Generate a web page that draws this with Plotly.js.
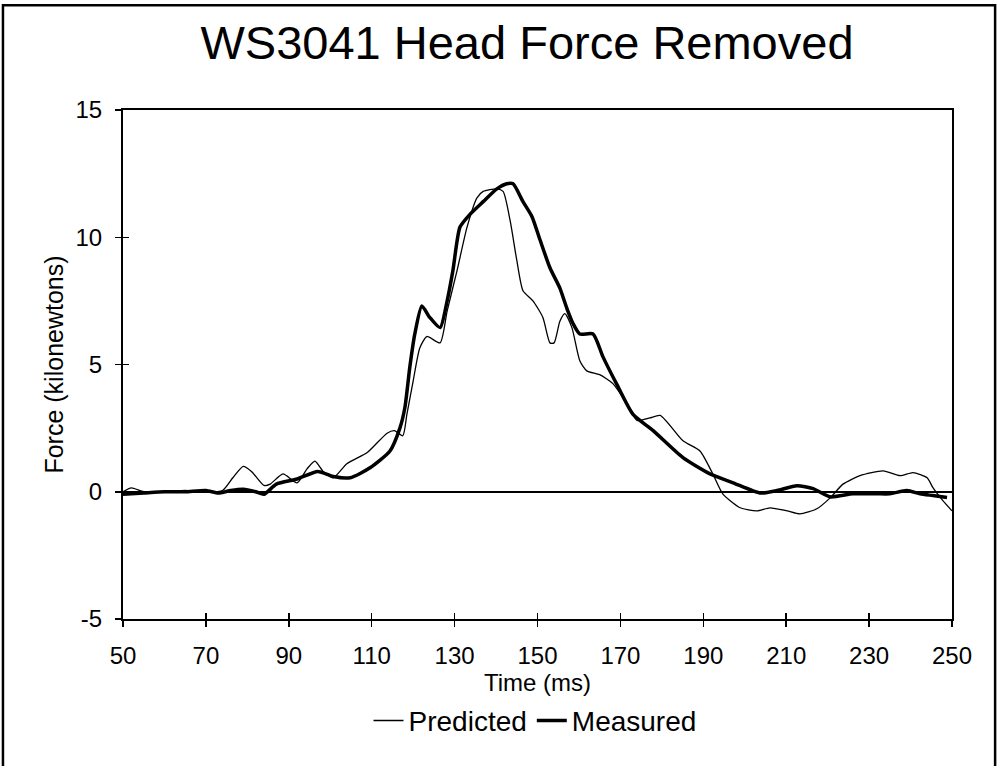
<!DOCTYPE html>
<html>
<head>
<meta charset="utf-8">
<script src="https://cdn.plot.ly/plotly-3.0.1.min.js"></script>
<style>html,body{margin:0;padding:0;background:#fff;}#chart{width:1000px;height:766px;}</style>
</head>
<body>
<div id="chart"></div>
<script>
const predictedTime = [50,52,55,60,65,70,74,76.5,79,81,84,85.5,88.6,92,94.4,96.3,98.3,100.7,104,109,113.7,115.5,117.5,118.5,120,121.6,123.3,126.5,128.2,130.6,133,135.4,136.9,140.2,141.7,143.4,145,146.5,148.9,151.3,153,154,155.4,156.6,158.3,160.2,161.9,165,168.2,171.6,174,177.1,179.6,185.1,189.2,192.3,194.7,198.9,202.9,206.1,210.2,213.3,217.4,220.6,223.7,227.8,233.4,237.5,240.6,244,245.4,247.8,250];
const predictedForce = [0,0.15,0,0,0.05,0,0.05,0.55,1.0,0.8,0.25,0.3,0.7,0.35,0.9,1.2,0.8,0.55,1.1,1.55,2.3,2.4,2.2,3.05,4.35,5.65,6.1,5.85,7.1,8.7,10.4,11.55,11.8,11.9,11.8,10.65,9.1,7.9,7.5,6.85,5.85,5.85,6.7,7.0,6.45,5.15,4.75,4.6,4.25,3.45,2.8,2.9,3.0,2.0,1.6,0.7,-0.08,-0.63,-0.75,-0.63,-0.75,-0.87,-0.67,-0.24,0.3,0.63,0.82,0.63,0.75,0.55,0.16,-0.35,-0.75];
const measuredTime = [50,55,60,65,70,73,76,79,82,84,87,92,97,100.7,104.8,109.6,114.4,116.8,118,119.2,120.4,122.1,124,126.5,128.2,129.6,131.3,133.7,136.9,140.2,142.6,144.1,146.5,148.7,150.6,153,155.4,157.1,158.6,160.2,163.4,165.8,169.2,173,177.9,185.1,191.6,197.2,203.7,207.8,212.6,216.5,220.6,226.1,231.9,235,239.1,242.3,245.4,248.8];
const measuredForce = [-0.1,-0.05,0,0,0.05,-0.05,0.05,0.1,0,-0.1,0.3,0.5,0.8,0.6,0.55,0.94,1.6,2.5,3.3,4.9,6.2,7.3,6.85,6.45,7.5,8.7,10.4,10.9,11.4,11.9,12.1,12.1,11.4,10.8,9.9,8.8,8.0,7.2,6.6,6.2,6.2,5.3,4.2,3.05,2.4,1.34,0.7,0.35,-0.05,0.05,0.24,0.12,-0.2,-0.08,-0.08,-0.08,0.05,-0.08,-0.15,-0.23];
const xTicks = [50,70,90,110,130,150,170,190,210,230,250];
const yTicks = [-5,0,5,10,15];

const FONT = "Liberation Sans, Arial, sans-serif";
const traces = [
  {x: predictedTime, y: predictedForce, name: 'Predicted', mode: 'lines',
   line: {color: '#000', width: 1.3, shape: 'spline', smoothing: 0.6}},
  {x: measuredTime, y: measuredForce, name: 'Measured', mode: 'lines',
   line: {color: '#000', width: 3.5, shape: 'spline', smoothing: 0.6}},
  // empty helper traces so the overlay axes (inner half of the crossing ticks) are drawn
  {x: [], y: [], xaxis: 'x2', yaxis: 'y', showlegend: false, hoverinfo: 'skip', mode: 'lines'},
  {x: [], y: [], xaxis: 'x', yaxis: 'y2', showlegend: false, hoverinfo: 'skip', mode: 'lines'}
];
const layout = {
  width: 1000, height: 766,
  margin: {l: 123, r: 48, t: 110, b: 147},
  paper_bgcolor: '#fff', plot_bgcolor: '#fff',
  font: {family: FONT, color: '#000'},
  showlegend: true,
  title: {text: 'WS3041 Head Force Removed', font: {family: FONT, size: 47, color: '#000'},
          x: 0.527, xanchor: 'center', y: 0.945, yanchor: 'middle', xref: 'container', yref: 'container'},
  xaxis: {range: [50, 250], tickvals: xTicks, ticktext: xTicks.map(String),
          showgrid: false, zeroline: false, showline: true, linecolor: '#000', linewidth: 2, mirror: true,
          ticks: 'outside', ticklen: 6, tickwidth: 1.5, tickcolor: '#000', ticklabelstandoff: 8,
          tickfont: {family: FONT, size: 24},
          title: {text: 'Time (ms)', font: {family: FONT, size: 24}, standoff: 1}},
  yaxis: {range: [-5, 15], tickvals: yTicks, ticktext: yTicks.map(String),
          showgrid: false, zeroline: true, zerolinecolor: '#000', zerolinewidth: 1.5,
          showline: true, linecolor: '#000', linewidth: 2, mirror: true,
          ticks: 'outside', ticklen: 6, tickwidth: 1.5, tickcolor: '#000', ticklabelstandoff: 8,
          tickfont: {family: FONT, size: 24},
          title: {text: 'Force (kilonewtons)', font: {family: FONT, size: 25}, standoff: 5}},
  xaxis2: {overlaying: 'x', anchor: 'y', side: 'bottom', range: [50, 250], tickvals: xTicks,
           showticklabels: false, showgrid: false, zeroline: false, showline: false,
           ticks: 'inside', ticklen: 6, tickwidth: 1.5, tickcolor: '#000'},
  yaxis2: {overlaying: 'y', anchor: 'x', side: 'left', range: [-5, 15], tickvals: yTicks,
           showticklabels: false, showgrid: false, zeroline: false, showline: false,
           ticks: 'inside', ticklen: 6, tickwidth: 1.5, tickcolor: '#000'},
  legend: {orientation: 'h', x: 0.497, xanchor: 'center', y: -0.2, yanchor: 'middle',
           font: {family: FONT, size: 28}, itemwidth: 30, bgcolor: 'rgba(0,0,0,0)'},
  shapes: [{type: 'rect', xref: 'paper', yref: 'paper', x0: -0.1448, x1: 1.052, y0: -0.3, y1: 1.206,
            line: {color: '#000', width: 2.5}, fillcolor: 'rgba(0,0,0,0)', layer: 'below'}]
};
Plotly.newPlot('chart', traces, layout, {staticPlot: true, displayModeBar: false});
</script>
</body>
</html>
